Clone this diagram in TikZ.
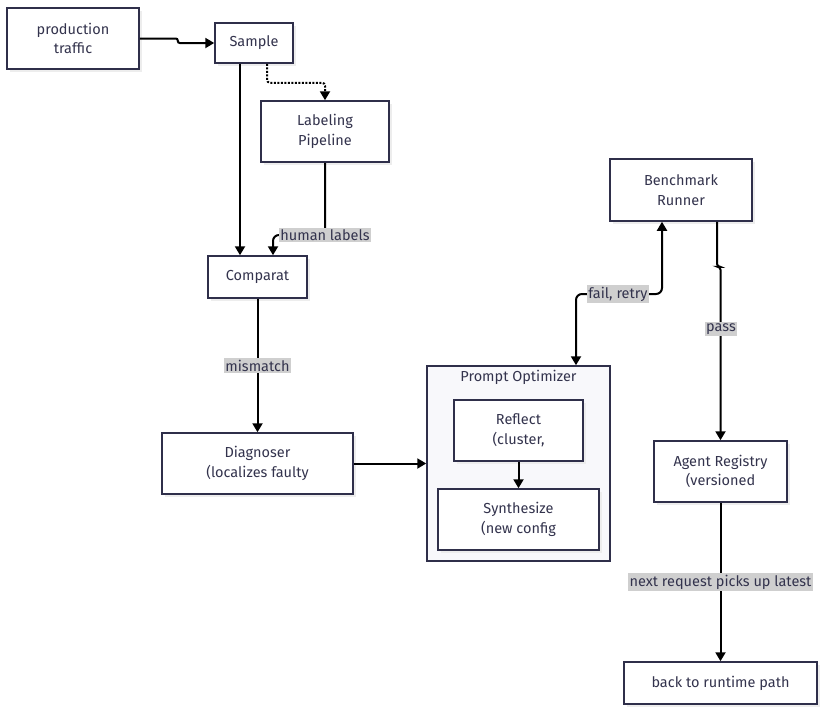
\documentclass[tikz,border=0pt]{standalone}
\usepackage{fontspec}
\setmainfont{Fira Sans}
\usepackage{tikz}
\usetikzlibrary{arrows.meta}
\usetikzlibrary{shadows}
\definecolor{ink}{HTML}{2F2F4A}
\definecolor{txt}{HTML}{33334D}
\definecolor{clusterbg}{HTML}{F8F8FB}
\definecolor{lblbg}{HTML}{CFCFCF}
\tikzstyle{box} = [rectangle, draw=ink, line width=1.5pt, fill=white, align=center, text=txt, font=\fontsize{14.5}{19.5}\selectfont, drop shadow={shadow xshift=2.5pt, shadow yshift=-2.5pt, fill=black!7, opacity=1}]
\tikzstyle{cluster} = [rectangle, draw=ink, line width=1.5pt, fill=clusterbg]
\tikzstyle{lbl} = [rectangle, fill=lblbg, text=txt, inner sep=1.5pt, font=\fontsize{14.5}{16}\selectfont]
\tikzstyle{arr} = [line width=2pt, -{Triangle[length=9pt,width=10pt]}]

\begin{document}
\begin{tikzpicture}[x=1pt, y=-1pt]
\useasboundingbox (0,0) rectangle (825,713);
% Left column
\node[box, minimum width=132pt, minimum height=61pt] (prod) at (73,38.5) {production\\traffic};
\node[box, minimum width=78pt, minimum height=40pt] (smp) at (254,43) {Sample};
\node[box, minimum width=128pt, minimum height=61pt] (lab) at (325,131.5) {Labeling\\Pipeline};
\node[box, minimum width=99pt, minimum height=42pt] (cmp) at (257.5,277) {Comparat};
\node[box, minimum width=191pt, minimum height=61pt] (diag) at (257.5,463.5) {Diagnoser\\(localizes faulty};
% Prompt Optimizer group
\node[cluster, minimum width=183pt, minimum height=195pt] (opt) at (518.5,463.5) {};
\node[text=txt, font=\fontsize{14.5}{16}\selectfont] (opttitle) at (518.5,377) {Prompt Optimizer};
\node[box, minimum width=129pt, minimum height=61pt] (refl) at (518.5,430.5) {Reflect\\(cluster,};
\node[box, minimum width=161pt, minimum height=61pt] (syn) at (518.5,519.5) {Synthesize\\(new config};
% Right column
\node[box, minimum width=142pt, minimum height=62pt] (bench) at (681,190) {Benchmark\\Runner};
\node[box, minimum width=133pt, minimum height=61pt] (reg) at (720.5,471.5) {Agent Registry\\(versioned};
\node[box, minimum width=193pt, minimum height=42pt] (back) at (720.5,683) {back to runtime path};
% Connectors
\draw[arr, rounded corners=2pt] (prod.east) -- ++(38,0) |- (smp.west);
\draw[arr] (smp.south -| 240,0) -- (cmp.north -| 240,0);
\draw[arr, dash pattern=on 2pt off 1.5pt, rounded corners=3pt] (smp.south -| 267,0) -- ++(0,19) -| (lab.north);
\draw[arr, rounded corners=6pt] (lab.south) -- (325,235) -| (cmp.north -| 273,0);
\node[lbl] (hl) at (325,235) {human labels};
\draw[arr] (cmp.south) -- node[lbl] (mm) {mismatch} (diag.north);
\draw[arr] (diag.east) -- (opt.west);
\draw[arr] (refl.south) -- (syn.north);
\draw[line width=2pt, {Triangle[length=9pt,width=10pt]}-{Triangle[length=9pt,width=10pt]}, rounded corners=6pt] (opt.north -| 576,0) |- (618,294) -| (bench.south -| 662,0);
\node[lbl] (fr) at (618,294) {fail, retry};
\draw[arr, rounded corners=3pt] (bench.south -| 717,0) -- ++(0,45) -| (reg.north);
\node[lbl] (ps) at (721,329) {pass};
\draw[arr] (reg.south) -- node[lbl] (nr) {next request picks up latest} (back.north);
\end{tikzpicture}
\end{document}
